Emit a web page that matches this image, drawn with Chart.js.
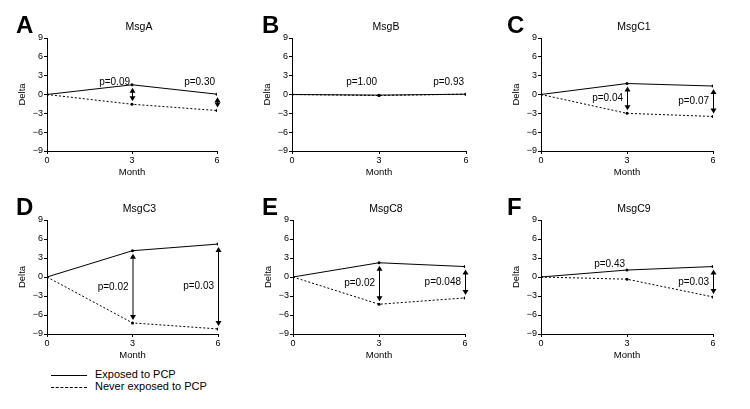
<!DOCTYPE html>
<html>
<head>
<meta charset="utf-8">
<script src="https://cdn.jsdelivr.net/npm/chart.js@4.4.1/dist/chart.umd.min.js"></script>
<style>
  body { margin: 0; background: #fff; width: 750px; height: 409px; position: relative; overflow: hidden;
         font-family: "Liberation Sans", Arial, sans-serif; }
  canvas { position: absolute; }
  .legend { position: absolute; left: 51px; top: 368px; font-size: 11px; color: #000; }
  .legend div { height: 12px; line-height: 12px; white-space: nowrap; }
  .legend span { display: inline-block; width: 36px; margin-right: 8px; vertical-align: middle; }
  .solid { border-top: 1px solid #000; }
  .dash { border-top: 1px dashed #000; }
</style>
</head>
<body>
<div class="legend">
  <div><span class="solid"></span>Exposed to PCP</div>
  <div><span class="dash"></span>Never exposed to PCP</div>
</div>
<script>
const months = [0, 3, 6];
const yTicks = [-9, -6, -3, 0, 3, 6, 9];
const panelLetters = ['A', 'B', 'C', 'D', 'E', 'F'];
const panelNames = ['MsgA', 'MsgB', 'MsgC1', 'MsgC3', 'MsgC8', 'MsgC9'];
const exposed = [
  [0, 1.55, 0.05],
  [0, -0.1, 0.05],
  [0, 1.75, 1.35],
  [0, 4.15, 5.2],
  [0, 2.25, 1.65],
  [0, 1.1, 1.65]
];
const neverExposed = [
  [0, -1.55, -2.55],
  [0, -0.15, 0.05],
  [0, -3.0, -3.5],
  [0, -7.25, -8.2],
  [0, -4.3, -3.3],
  [0, -0.35, -3.15]
];
// p values at month 3 and month 6
const pValues = [
  ['0.09', '0.30'],
  ['1.00', '0.93'],
  ['0.04', '0.07'],
  ['0.02', '0.03'],
  ['0.02', '0.048'],
  ['0.43', '0.03']
];
const hasArrow = [
  [true, true],
  [false, false],
  [true, true],
  [true, true],
  [true, true],
  [false, true]
];
const pAbove = [
  [true, true],
  [true, true],
  [false, false],
  [false, false],
  [false, false],
  [true, false]
];

// canvas placement and padding, one per panel
const layout = [
  { left: 0,   top: 0,   h: 185, pl: 17, pr: 33, pt: 38, pb: 4, lx: 16 },
  { left: 250, top: 0,   h: 185, pl: 12, pr: 34, pt: 38, pb: 4, lx: 12 },
  { left: 500, top: 0,   h: 185, pl: 11, pr: 37, pt: 38, pb: 4, lx: 7 },
  { left: 0,   top: 185, h: 180, pl: 17, pr: 32, pt: 35, pb: 1, lx: 16 },
  { left: 250, top: 185, h: 180, pl: 13, pr: 35, pt: 35, pb: 1, lx: 12 },
  { left: 500, top: 185, h: 180, pl: 11, pr: 37, pt: 35, pb: 1, lx: 7 }
];

const FONT = '"Liberation Sans", Arial, sans-serif';

function arrowHead(ctx, x, y, dir) {
  ctx.beginPath();
  ctx.moveTo(x, y);
  ctx.lineTo(x - 3, y + dir * 5);
  ctx.lineTo(x + 3, y + dir * 5);
  ctx.closePath();
  ctx.fill();
}

const panelDeco = {
  id: 'panelDeco',
  afterDatasetsDraw(chart, args, opts) {
    const i = opts.index;
    const ctx = chart.ctx;
    const area = chart.chartArea;
    const xs = chart.scales.x, ys = chart.scales.y;
    ctx.save();
    ctx.fillStyle = '#000';
    ctx.strokeStyle = '#000';
    ctx.lineWidth = 1;
    // letter
    ctx.font = 'bold 24px ' + FONT;
    ctx.textAlign = 'left';
    ctx.textBaseline = 'alphabetic';
    ctx.fillText(panelLetters[i], layout[i].lx, area.top - 5);
    // title
    ctx.font = '10.5px ' + FONT;
    ctx.textAlign = 'center';
    ctx.fillText(panelNames[i], (area.left + area.right) / 2 + 7, area.top - 8);
    // arrows and p values
    for (let k = 0; k < 2; k++) {
      const j = k + 1;
      const x = xs.getPixelForValue(months[j]);
      const yTop = ys.getPixelForValue(Math.max(exposed[i][j], neverExposed[i][j]));
      const yBot = ys.getPixelForValue(Math.min(exposed[i][j], neverExposed[i][j]));
      if (hasArrow[i][k]) {
        const a = yTop + 3, b = yBot - 3;
        ctx.beginPath();
        ctx.moveTo(x + 0.5, a + 3);
        ctx.lineTo(x + 0.5, b - 3);
        ctx.stroke();
        arrowHead(ctx, x + 0.5, a, 1);
        arrowHead(ctx, x + 0.5, b, -1);
      }
      ctx.font = '10px ' + FONT;
      ctx.textAlign = 'right';
      ctx.textBaseline = 'middle';
      const txt = 'p=' + pValues[i][k];
      if (pAbove[i][k]) {
        ctx.fillText(txt, x - 2, ys.getPixelForValue(2));
      } else {
        ctx.fillText(txt, x - 4, (yTop + yBot) / 2);
      }
    }
    ctx.restore();
  }
};

function makePanel(i) {
  const L = layout[i];
  const cv = document.createElement('canvas');
  cv.width = 250; cv.height = L.h;
  cv.style.left = L.left + 'px';
  cv.style.top = L.top + 'px';
  cv.style.width = '250px';
  cv.style.height = L.h + 'px';
  document.body.appendChild(cv);

  new Chart(cv.getContext('2d'), {
    type: 'line',
    data: {
      datasets: [
        {
          label: 'Exposed to PCP',
          data: months.map((m, j) => ({ x: m, y: exposed[i][j] })),
          borderColor: '#000', backgroundColor: '#000',
          borderWidth: 1, pointRadius: 1.5, pointBorderWidth: 0,
          tension: 0
        },
        {
          label: 'Never exposed to PCP',
          data: months.map((m, j) => ({ x: m, y: neverExposed[i][j] })),
          borderColor: '#000', backgroundColor: '#000',
          borderWidth: 1, borderDash: [2, 2], pointRadius: 1.5, pointBorderWidth: 0,
          tension: 0
        }
      ]
    },
    options: {
      responsive: false,
      animation: false,
      events: [],
      layout: { padding: { left: L.pl, right: L.pr, top: L.pt, bottom: L.pb } },
      plugins: {
        legend: { display: false },
        tooltip: { enabled: false },
        panelDeco: { index: i }
      },
      scales: {
        x: {
          type: 'linear', min: 0, max: 6,
          afterBuildTicks: s => { s.ticks = months.map(v => ({ value: v })); },
          afterFit: s => { s.height = 30; s.paddingLeft = 0; s.paddingRight = 0; },
          border: { color: '#000', width: 1 },
          grid: { drawOnChartArea: false, tickLength: 3, color: '#000', tickColor: '#000' },
          ticks: { color: '#000', padding: 1, maxRotation: 0, font: { family: FONT, size: 9 } },
          title: { display: true, text: 'Month', color: '#000', padding: { top: 0, bottom: 3 },
                   font: { family: FONT, size: 9.5 } }
        },
        y: {
          min: -9, max: 9,
          afterBuildTicks: s => { s.ticks = yTicks.map(v => ({ value: v })); },
          afterFit: s => { s.width = 30; s.paddingTop = 0; s.paddingBottom = 0; },
          border: { color: '#000', width: 1 },
          grid: { drawOnChartArea: false, tickLength: 3, color: '#000', tickColor: '#000' },
          ticks: { color: '#000', padding: 1, font: { family: FONT, size: 9 },
                   callback: v => (v < 0 ? '\u2212' + Math.abs(v) : String(v)) },
          title: { display: true, text: 'Delta', color: '#000', padding: 0,
                   font: { family: FONT, size: 9.5 } }
        }
      }
    },
    plugins: [panelDeco]
  });
}

for (let i = 0; i < 6; i++) makePanel(i);
</script>
</body>
</html>
